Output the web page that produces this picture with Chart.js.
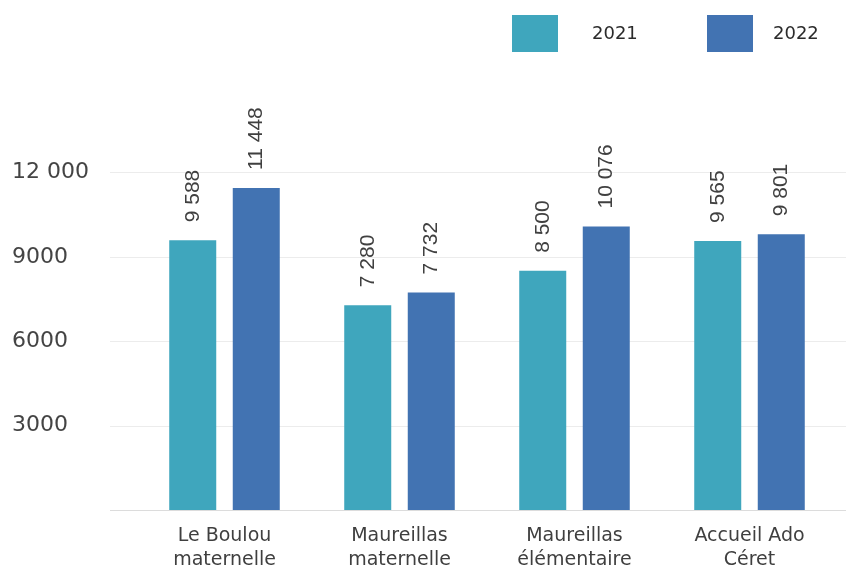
<!DOCTYPE html>
<html lang="fr">
<head>
<meta charset="utf-8">
<title>Fréquentation 2021 / 2022</title>
<script src="https://cdn.jsdelivr.net/npm/chart.js@4/dist/chart.umd.min.js"></script>
<style>
  html, body { margin: 0; padding: 0; background: #ffffff; }
  #wrap { width: 846px; height: 569px; position: relative; }
</style>
</head>
<body>
<div id="wrap"><canvas id="chart" width="846" height="569"></canvas></div>
<script>
// Sites (two-line labels)
const categories = [
  ['Le Boulou', 'maternelle'],
  ['Maureillas', 'maternelle'],
  ['Maureillas', 'élémentaire'],
  ['Accueil Ado', 'Céret']
];

// Series
const seriesNames = ['2021', '2022'];
const values2021 = [9588, 7280, 8500, 9565];
const values2022 = [11448, 7732, 10076, 9801];
const seriesColors = ['#3fa6bd', '#4273b2'];

// Value axis ticks
const yTicks = [0, 3000, 6000, 9000, 12000];
const yMax = 15000;

// French-style thousands grouping with a plain space
function groupThousands(v) {
  return String(v).replace(/\B(?=(\d{3})+(?!\d))/g, ' ');
}
function tickLabel(v) {
  if (v === 0 || !yTicks.includes(v)) return '';
  return v >= 10000 ? groupThousands(v) : String(v);
}

// Horizontal guide lines, running past the plot on both sides
const guideLines = {
  id: 'guideLines',
  beforeDatasetsDraw(chart, args, opts) {
    const { ctx } = chart;
    const y = chart.scales.y;
    ctx.save();
    ctx.lineWidth = 1;
    yTicks.forEach(v => {
      const py = Math.round(y.getPixelForValue(v)) + 0.5;
      ctx.strokeStyle = v === 0 ? '#dcdcdc' : '#ececec';
      ctx.beginPath();
      ctx.moveTo(opts.left, py);
      ctx.lineTo(chart.width, py);
      ctx.stroke();
    });
    ctx.restore();
  }
};

// Vertical value labels above each bar
const barValues = {
  id: 'barValues',
  afterDatasetsDraw(chart, args, opts) {
    const { ctx } = chart;
    ctx.save();
    ctx.font = opts.font;
    ctx.fillStyle = opts.color;
    ctx.textAlign = 'left';
    ctx.textBaseline = 'middle';
    chart.data.datasets.forEach((ds, di) => {
      const meta = chart.getDatasetMeta(di);
      meta.data.forEach((bar, i) => {
        ctx.save();
        ctx.translate(bar.x, bar.y - opts.offset);
        ctx.rotate(-Math.PI / 2);
        ctx.fillText(groupThousands(ds.data[i]), 0, 0);
        ctx.restore();
      });
    });
    ctx.restore();
  }
};

// Legend: colour swatch followed by the series name
const swatchLegend = {
  id: 'swatchLegend',
  afterDraw(chart, args, opts) {
    const { ctx } = chart;
    ctx.save();
    ctx.font = opts.font;
    ctx.fillStyle = opts.color;
    ctx.textBaseline = 'middle';
    chart.data.datasets.forEach((ds, i) => {
      const it = opts.items[i];
      ctx.fillStyle = ds.backgroundColor;
      ctx.fillRect(it.x, opts.top, opts.boxWidth, opts.boxHeight);
      ctx.fillStyle = opts.color;
      ctx.fillText(ds.label, it.textX, opts.top + opts.boxHeight / 2 + 1);
    });
    ctx.restore();
  }
};

new Chart(document.getElementById('chart'), {
  type: 'bar',
  data: {
    labels: categories,
    datasets: [
      { label: seriesNames[0], data: values2021, backgroundColor: seriesColors[0] },
      { label: seriesNames[1], data: values2022, backgroundColor: seriesColors[1] }
    ]
  },
  options: {
    responsive: false,
    animation: false,
    devicePixelRatio: 1,
    layout: { padding: { top: 88, left: 12, right: 9, bottom: 0 } },
    datasets: {
      bar: { categoryPercentage: 0.726, barPercentage: 0.74, borderWidth: 0 }
    },
    plugins: {
      legend: { display: false },
      tooltip: { enabled: false },
      guideLines: { left: 110 },
      barValues: { font: '21px "Liberation Sans", Arial, sans-serif', color: '#404040', offset: 18 },
      swatchLegend: {
        font: '18px "DejaVu Sans", sans-serif',
        color: '#2b2b2b',
        top: 15, boxWidth: 46, boxHeight: 37,
        items: [ { x: 512, textX: 592 }, { x: 707, textX: 773 } ]
      }
    },
    scales: {
      x: {
        grid: { display: false },
        border: { display: false },
        ticks: {
          color: '#3f3f3f',
          padding: 6,
          maxRotation: 0,
          font: { family: '"DejaVu Sans", sans-serif', size: 19, lineHeight: 1.27 }
        },
        afterFit(scale) { scale.height = 59; }
      },
      y: {
        min: 0,
        max: yMax,
        grid: { display: false },
        border: { display: false },
        ticks: {
          stepSize: 3000,
          crossAlign: 'far',
          color: '#444444',
          font: { family: '"DejaVu Sans", sans-serif', size: 22 },
          callback: (v) => tickLabel(v)
        },
        afterFit(scale) { scale.width = 125; }
      }
    }
  },
  plugins: [guideLines, barValues, swatchLegend]
});
</script>
</body>
</html>
